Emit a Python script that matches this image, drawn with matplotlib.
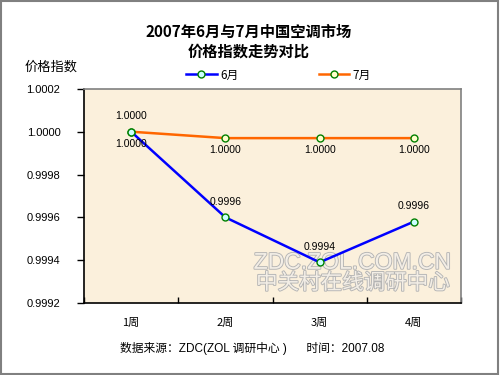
import matplotlib
matplotlib.use("Agg")
import matplotlib.pyplot as plt
import matplotlib.patheffects as pe
from matplotlib.ticker import FixedLocator, FormatStrFormatter
from matplotlib.lines import Line2D

plt.rcParams['font.family'] = ['Liberation Sans', 'Noto Sans CJK SC', 'DejaVu Sans']

weeks = ['1周', '2周', '3周', '4周']
june = [1.0000, 0.99960, 0.99939, 0.99958]
july = [1.0000, 0.99997, 0.99997, 0.99997]
june_labels = ['1.0000', '0.9996', '0.9994', '0.9996']
july_labels = ['1.0000', '1.0000', '1.0000', '1.0000']
yticks = [0.9992, 0.9994, 0.9996, 0.9998, 1.0000, 1.0002]

fig = plt.figure(figsize=(5, 3.75), dpi=100)
fig.patch.set_facecolor('white')
fig.add_artist(plt.Rectangle((0.002, 0.003), 0.994, 0.994, transform=fig.transFigure,
                             fill=False, edgecolor='#808080', linewidth=1.5))

ax = fig.add_axes([0.168, 0.192, 0.754, 0.571])
ax.set_facecolor('#FBF0DC')
x = list(range(1, len(weeks) + 1))

ax.plot(x, june, color='#0000FF', linewidth=1.8, marker='o', markersize=5,
        markerfacecolor='#CCFFFF', markeredgecolor='#008000', markeredgewidth=1, zorder=4)
ax.plot(x, july, color='#FF6600', linewidth=1.8, marker='o', markersize=5,
        markerfacecolor='#FFFFCC', markeredgecolor='#008000', markeredgewidth=1, zorder=3)

for xi, v, lab in zip(x, june, june_labels):
    ax.annotate(lab, (xi, v), xytext=(0, 7.5), textcoords='offset points',
                ha='center', va='bottom', fontsize=7.5, color='black', zorder=5)
for xi, v, lab in zip(x, july, july_labels):
    ax.annotate(lab, (xi, v), xytext=(0, -5), textcoords='offset points',
                ha='center', va='top', fontsize=7.5, color='black', zorder=5)

ax.set_xlim(0.5, len(weeks) + 0.5)
ax.set_ylim(0.9992, 1.0002)
ax.yaxis.set_major_locator(FixedLocator(yticks))
ax.yaxis.set_major_formatter(FormatStrFormatter('%.4f'))
ax.set_xticks(x)
ax.set_xticklabels(weeks, family=['Noto Sans CJK SC'])
ax.xaxis.set_minor_locator(FixedLocator([i + 0.5 for i in range(0, len(weeks) + 1)]))
ax.tick_params(axis='x', which='major', length=0, pad=11, labelsize=8)
ax.tick_params(axis='x', which='minor', direction='in', length=4, width=1)
ax.tick_params(axis='y', which='major', direction='out', length=5, width=1, labelsize=8, pad=12)

for s in ['left', 'bottom']:
    ax.spines[s].set_color('black')
    ax.spines[s].set_linewidth(1.2)
for s in ['top', 'right']:
    ax.spines[s].set_color('#808080')
    ax.spines[s].set_linewidth(1.2)

# watermark
wm = dict(ha='center', va='center', color='#F3EEE6', zorder=2,
          path_effects=[pe.withStroke(linewidth=1.3, foreground='#B4B4B4')])
ax.text(0.711, 0.19, 'ZDC.ZOL.COM.CN', transform=ax.transAxes, fontsize=16.5,
        family=['Liberation Sans'], **wm)
ax.text(0.713, 0.093, '中关村在线调研中心', transform=ax.transAxes, fontsize=15.5,
        family=['Noto Sans CJK SC'], **wm)

fig.text(0.497, 0.888, '2007年6月与7月中国空调市场\n价格指数走势对比', ha='center', va='center',
         fontsize=11, fontweight='bold', family=['Noto Sans CJK SC'], linespacing=1.25)
fig.text(0.103, 0.82, '价格指数', ha='center', va='center', fontsize=9.5,
         family=['Noto Sans CJK SC'])

h1 = Line2D([], [], color='#0000FF', linewidth=1.8, marker='o', markersize=5,
            markerfacecolor='#CCFFFF', markeredgecolor='#008000')
h2 = Line2D([], [], color='#FF6600', linewidth=1.8, marker='o', markersize=5,
            markerfacecolor='#FFFFCC', markeredgecolor='#008000')
fig.legend([h1, h2], ['6月', '7月'], loc='center', bbox_to_anchor=(0.557, 0.8),
           ncol=2, frameon=False, columnspacing=6.8, handlelength=2.6, handletextpad=0.3,
           prop={'family': ['Noto Sans CJK SC'], 'size': 8.5})

fig.text(0.505, 0.07, '数据来源：ZDC(ZOL 调研中心 )      时间：2007.08', ha='center', va='center',
         fontsize=8.5, family=['Liberation Sans', 'Noto Sans CJK SC'])

fig.savefig('out.png', dpi=100)
